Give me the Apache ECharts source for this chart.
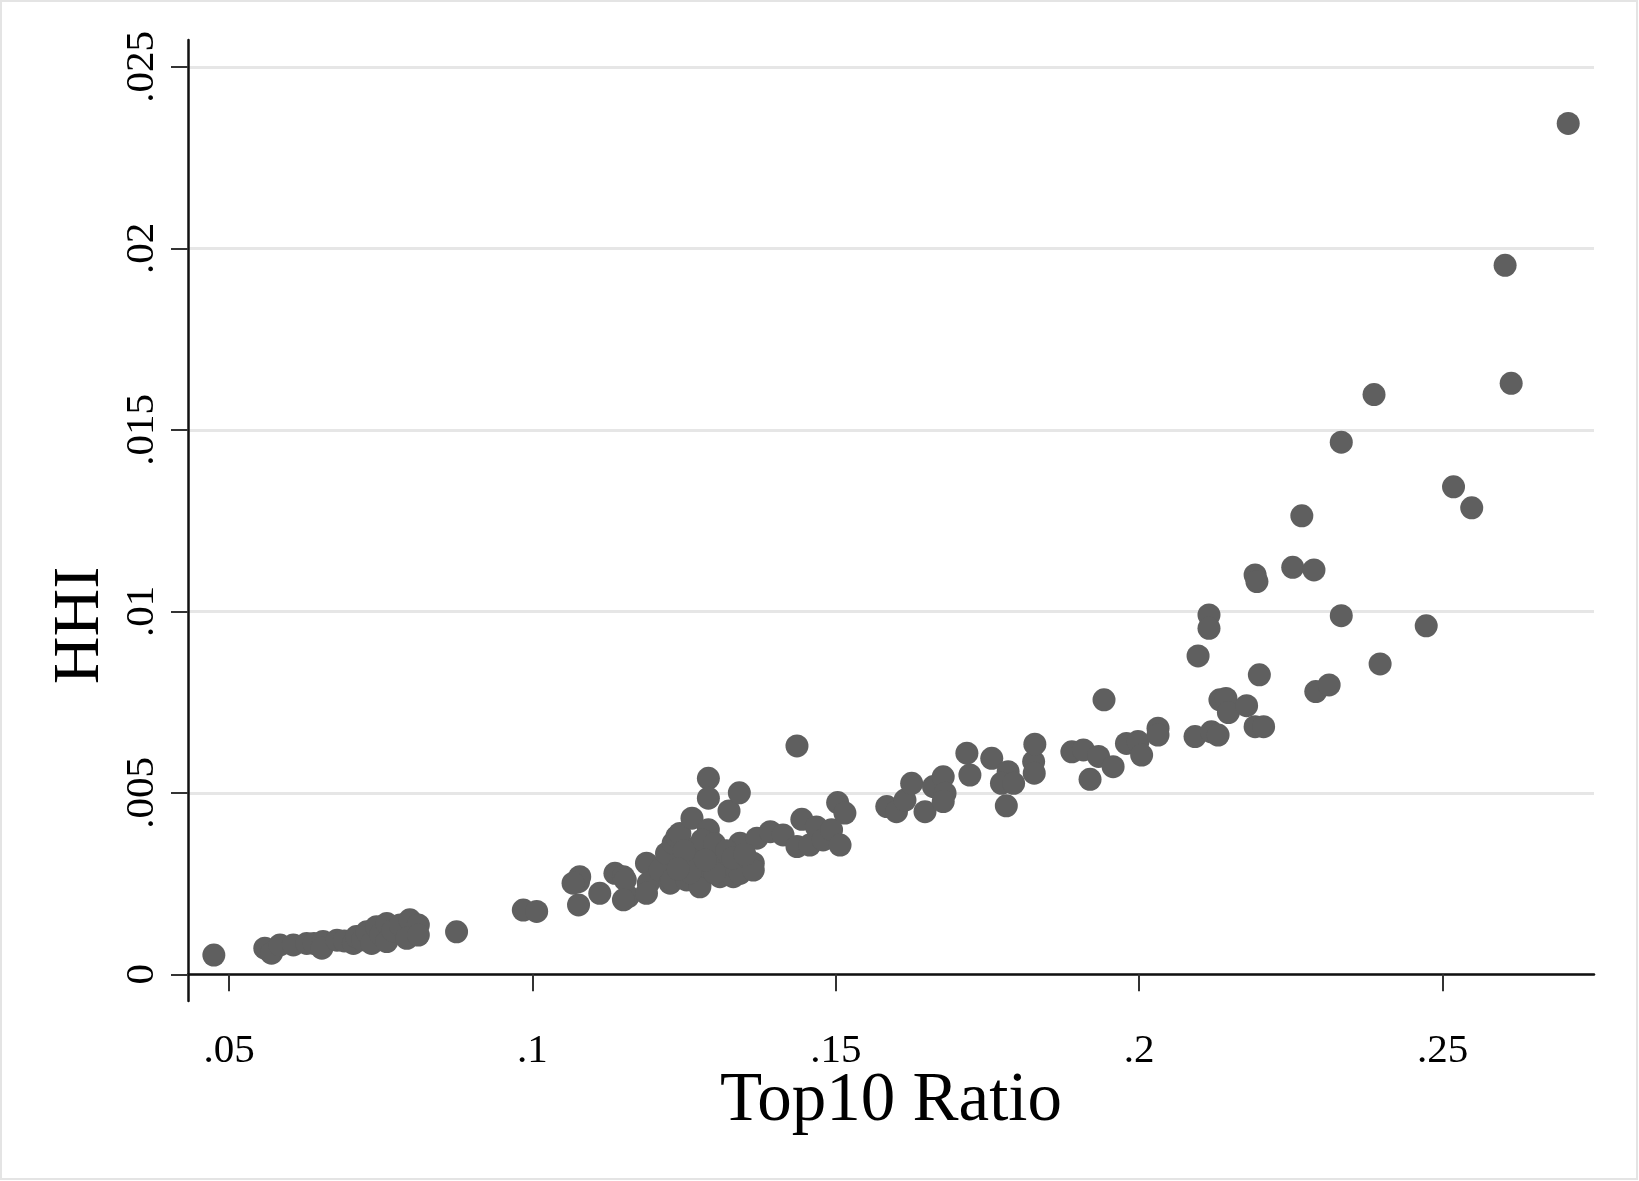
<!DOCTYPE html>
<html>
<head>
<meta charset="utf-8">
<script src="https://cdn.jsdelivr.net/npm/echarts@6/dist/echarts.min.js"></script>
<style>
  html, body { margin: 0; padding: 0; background: #fff; }
  #chart { width: 1639px; height: 1181px; }
</style>
</head>
<body>
<div id="chart"></div>
<script>
// Top10 ratio (x) and HHI (y)
const top10 = [
  0.0475, 0.0559, 0.0570, 0.0584, 0.0606, 0.0628, 0.0640, 0.0655, 0.0653, 0.0678,
  0.0690, 0.0705, 0.0710, 0.0720, 0.0727, 0.0735, 0.0743, 0.0750, 0.0760, 0.0760,
  0.0770, 0.0782, 0.0798, 0.0812, 0.0793, 0.0812, 0.0875, 0.0985, 0.1007,
  0.1076, 0.1076, 0.1078, 0.1067, 0.1111, 0.1136, 0.1150, 0.1158, 0.1153, 0.1150,
  0.1188, 0.1191, 0.1188, 0.1210, 0.1221, 0.1227, 0.1230, 0.1232, 0.1238, 0.1243,
  0.1254, 0.1254, 0.1263, 0.1265, 0.1276, 0.1276, 0.1287, 0.1290, 0.1290, 0.1290,
  0.1298, 0.1309, 0.1320, 0.1324, 0.1331, 0.1341, 0.1342, 0.1342, 0.1364, 0.1364,
  0.1370, 0.1392, 0.1413, 0.1436, 0.1436, 0.1444, 0.1457, 0.1468, 0.1479, 0.1493,
  0.1503, 0.1507, 0.1515,
  0.1270, 0.1280, 0.1300, 0.1310, 0.1320, 0.1250, 0.1260, 0.1330, 0.1350, 0.1300,
  0.1240, 0.1285,
  0.1584, 0.1600, 0.1614, 0.1625, 0.1647, 0.1661, 0.1677, 0.1680, 0.1677, 0.1716,
  0.1721, 0.1757, 0.1784, 0.1773, 0.1793, 0.1781, 0.1826, 0.1827, 0.1828, 0.1889,
  0.1908, 0.1919, 0.1933, 0.1942, 0.1957, 0.1979, 0.1998, 0.2004, 0.2031, 0.2031,
  0.2092, 0.2119, 0.2130, 0.2191, 0.2205, 0.2097, 0.2115, 0.2115, 0.2133, 0.2143,
  0.2147, 0.2177, 0.2198, 0.2191, 0.2194, 0.2253, 0.2288, 0.2268, 0.2291, 0.2313,
  0.2333, 0.2333, 0.2387, 0.2397, 0.2473, 0.2518, 0.2548, 0.2603, 0.2613, 0.2707
]
const hhi = [
  0.00053, 0.00072, 0.00058, 0.00081, 0.00081, 0.00085, 0.00085, 0.00090, 0.00072, 0.00094,
  0.00092, 0.00085, 0.00104, 0.00095, 0.00117, 0.00085, 0.00131, 0.00110, 0.00140, 0.00090,
  0.00120, 0.00136, 0.00150, 0.00136, 0.00099, 0.00108, 0.00117, 0.00177, 0.00173,
  0.00255, 0.00191, 0.00269, 0.00251, 0.00223, 0.00278, 0.00269, 0.00214, 0.00260, 0.00205,
  0.00306, 0.00251, 0.00223, 0.00287, 0.00333, 0.00251, 0.00260, 0.00361, 0.00379, 0.00388,
  0.00260, 0.00306, 0.00430, 0.00324, 0.00251, 0.00241, 0.00296, 0.00398, 0.00540, 0.00485,
  0.00333, 0.00269, 0.00315, 0.00450, 0.00269, 0.00500, 0.00361, 0.00278, 0.00306, 0.00287,
  0.00375, 0.00393, 0.00384, 0.00352, 0.00629, 0.00427, 0.00356, 0.00406, 0.00370, 0.00398,
  0.00473, 0.00356, 0.00444,
  0.00350, 0.00370, 0.00360, 0.00300, 0.00340, 0.00340, 0.00280, 0.00320, 0.00330, 0.00280,
  0.00290, 0.00315,
  0.00462, 0.00448, 0.00480, 0.00526, 0.00448, 0.00517, 0.00544, 0.00499, 0.00476, 0.00609,
  0.00549, 0.00595, 0.00558, 0.00526, 0.00526, 0.00464, 0.00586, 0.00554, 0.00634, 0.00613,
  0.00618, 0.00537, 0.00600, 0.00756, 0.00572, 0.00636, 0.00641, 0.00604, 0.00678, 0.00659,
  0.00655, 0.00668, 0.00659, 0.00682, 0.00682, 0.00877, 0.00990, 0.00953, 0.00756, 0.00760,
  0.00721, 0.00740, 0.00825, 0.01100, 0.01082, 0.01121, 0.01114, 0.01263, 0.00779, 0.00797,
  0.00988, 0.01466, 0.01597, 0.00855, 0.00960, 0.01343, 0.01285, 0.01953, 0.01628, 0.02344
]
const xTicks = [0.05, 0.1, 0.15, 0.2, 0.25]
const xTickLabels = ['.05', '.1', '.15', '.2', '.25']
const yTicks = [0, 0.005, 0.01, 0.015, 0.02, 0.025]
const yTickLabels = ['0', '.005', '.01', '.015', '.02', '.025']

let points = top10.map((x, i) => [x, hhi[i]])

let chartDom = document.getElementById('chart')
let myChart = echarts.init(chartDom)
const serif = 'Liberation Serif'

let option = {
  backgroundColor: '#fff',
  animation: false,
  graphic: [{
    type: 'rect',
    shape: { x: 1, y: 1, width: 1636, height: 1178 },
    style: { fill: 'none', stroke: '#e4e4e4', lineWidth: 2 },
    silent: true
  }],
  grid: { left: 188, right: 45, top: 40, bottom: 180 },
  xAxis: {
    type: 'value',
    min: 0.04324,
    max: 0.27495,
    name: 'Top10 Ratio',
    nameLocation: 'middle',
    nameMoveOverlap: false,
    nameGap: 66,
    nameTextStyle: { fontFamily: serif, fontSize: 69, color: '#000' },
    axisLine: { lineStyle: { color: '#111', width: 2.5 } },
    axisTick: { customValues: xTicks, length: 17, lineStyle: { color: '#333', width: 2 } },
    axisLabel: {
      customValues: xTicks,
      margin: 30,
      fontFamily: serif,
      fontSize: 41,
      color: '#000',
      formatter: v => xTickLabels[xTicks.findIndex(t => Math.abs(t - v) < 1e-9)]
    },
    splitLine: { show: false }
  },
  yAxis: {
    type: 'value',
    min: -0.000736,
    max: 0.025738,
    name: 'HHI',
    nameLocation: 'middle',
    nameRotate: 90,
    nameGap: 74,
    nameTextStyle: { fontFamily: serif, fontSize: 66, color: '#000', padding: [0, 210, 0, 0] },
    axisLine: { show: true, lineStyle: { color: '#111', width: 2.5 } },
    axisTick: { show: true, customValues: yTicks, length: 17, lineStyle: { color: '#333', width: 2 } },
    axisLabel: {
      customValues: yTicks,
      rotate: 90,
      margin: 25,
      align: 'center',
      verticalAlign: 'bottom',
      fontFamily: serif,
      fontSize: 41,
      color: '#000',
      formatter: v => yTickLabels[yTicks.findIndex(t => Math.abs(t - v) < 1e-9)]
    },
    splitLine: { show: true, lineStyle: { color: '#e6e6e6', width: 3 } }
  },
  series: [{
    type: 'scatter',
    data: points,
    symbolSize: 23,
    itemStyle: { color: '#5f5f5f', opacity: 1 }
  }]
}

myChart.setOption(option)
</script>
</body>
</html>
